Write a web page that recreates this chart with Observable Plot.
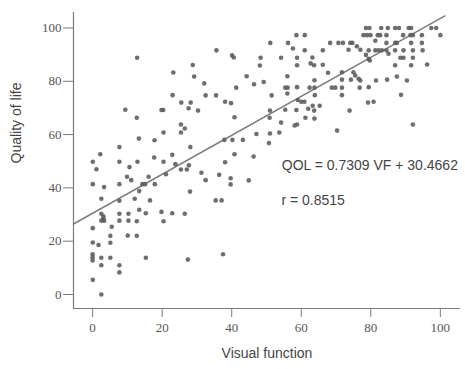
<!DOCTYPE html>
<html><head><meta charset="utf-8">
<script src="https://cdn.jsdelivr.net/npm/d3@7"></script>
<script src="https://cdn.jsdelivr.net/npm/@observablehq/plot@0.6"></script>
<style>
body{margin:0;background:#fff} svg{display:block}
</style>
</head><body><div id="chart"></div>
<script>
const visualFunction = [
12.8,28.8,23.2,29.2,32.1,23.0,32.5,25.5,28.2,27.6,30.3,9.4,19.8,20.3,12.7,25.4,26.5,25.4,20.4,13.3,17.8,7.7,28.1,2.2,17.7,22.9,
0.05,7.7,12.9,20.4,10.6,1.1,23.8,27.7,25.4,27.1,31.3,32.5,21.1,9.9,11.1,16.1,0.05,3.3,7.7,14.3,15.1,17.9,13.4,28.0,2.5,7.7,12.1,16.5,13.4,2.5,7.7,10.3,15.3,19.8,22.9,26.5,3.1,3.1,2.5,3.3,7.7,10.3,12.7,20.4,5.5,0.05,5.1,10.1,12.7,0.05,1.7,5.1,0,0,0,2.5,5.1,15.3,27.4,2.5,7.7,7.7,0.05,2.5,
58.6,61.0,51.1,56.2,57.6,35.6,61.0,66.2,40.1,40.6,48.3,54.2,58.8,63.2,48.1,58.8,62.7,63.7,66.2,67.7,44.3,56.0,63.8,46.4,49.2,41.3,55.4,56.1,58.8,62.4,63.8,35.5,51.5,56.0,63.9,38.1,39.8,59.0,60.0,60.9,63.3,65.3,51.0,55.4,58.6,62.0,63.7,40.8,50.9,61.2,63.8,54.2,58.1,58.8,47.1,51.0,53.7,37.9,40.2,43.2,50.7,40.8,46.3,
38.1,36.4,39.7,39.7,44.9,35.4,37.1,37.5,
97.4,98.8,100,78.6,79.6,83.0,84.9,87.0,88.1,90.9,91.6,77.9,78.9,79.9,82.0,82.7,84.5,89.3,91.4,92.1,94.7,81.3,84.5,87.0,87.5,91.6,94.7,68.3,70.7,72.0,74.1,74.7,76.0,77.0,73.6,79.4,81.3,82.2,83.2,84.5,87.0,89.4,92.1,94.9,85.1,78.6,79.4,79.7,88.5,89.4,92.1,87.0,91.6,96.2,71.7,75.0,75.5,76.5,77.0,87.5,71.7,74.3,81.5,84.7,90.4,68.8,69.8,71.7,76.8,79.4,71.7,88.7,79.2,80.8,73.9,70.3,92.1
];
const qualityOfLife = [
88.8,86.1,83.3,81.8,79.2,74.8,74.7,72.0,72.0,69.9,69.0,69.3,69.2,69.2,66.3,63.8,62.3,60.8,60.8,58.5,57.9,55.3,55.3,52.6,51.4,52.4,
49.8,49.8,49.8,49.8,47.8,47.0,48.9,48.5,46.9,46.9,45.7,42.9,45.1,44.2,42.9,44.2,41.4,40.3,41.4,41.4,41.4,41.4,38.8,38.6,35.9,35.2,35.9,35.3,31.8,30.3,30.3,30.3,30.5,31.0,30.5,30.3,29.3,28.4,27.7,27.7,27.7,27.7,27.5,27.5,25.4,24.9,22.0,22.1,22.0,19.5,18.6,19.4,15.1,14.0,12.8,13.8,13.8,13.8,13.1,11.0,11.0,8.3,5.5,0,
97.3,97.3,94.4,94.4,92.3,91.6,91.6,91.6,89.7,88.9,88.8,88.8,88.8,88.9,85.9,86.0,86.7,86.0,86.2,83.2,81.9,81.9,80.4,78.9,79.7,77.6,77.6,77.6,77.8,77.6,77.6,74.7,74.7,75.4,74.8,72.3,71.8,73.0,72.3,72.3,70.8,70.8,69.0,69.3,69.2,69.7,69.0,66.5,66.3,66.3,66.0,64.5,63.4,63.8,60.2,60.4,60.8,58.0,58.0,58.0,56.8,52.6,51.8,
49.6,44.9,43.6,41.3,42.8,35.3,35.3,15.1,
100,100,97.3,100,100,100,100,100,100,100,100,97.3,97.3,97.3,97.3,97.3,97.3,97.3,97.3,97.3,97.3,95.2,94.4,94.4,94.4,94.4,94.4,94.4,94.4,94.4,94.4,94.4,93.1,91.8,91.8,91.6,91.6,91.6,91.6,91.6,91.6,91.6,91.6,91.6,90.3,89.9,88.4,87.8,88.8,88.8,88.8,86.0,86.0,86.3,83.4,83.4,82.2,80.9,80.3,81.8,80.6,80.6,80.3,80.6,80.3,77.6,77.6,77.6,77.6,77.8,74.8,74.9,72.0,72.3,69.0,61.5,63.8
];
const xTicks = [0, 20, 40, 60, 80, 100];
const yTicks = [0, 20, 40, 60, 80, 100];
const xTitle = "Visual function";
const yTitle = "Quality of life";
const slope = 0.7309, intercept = 30.4662;
const fitVF = [-5.5, 101.3];
const equationText = "QOL = 0.7309 VF + 30.4662";
const rText = "r = 0.8515";

const points = visualFunction.map((v, i) => ({vf: v, qol: qualityOfLife[i]}));
const fit = fitVF.map(v => ({vf: v, qol: slope * v + intercept}));
const xDom = [-5.5, 105.8], yDom = [-5.25, 105.8];
const sans = "Liberation Sans, Arial, sans-serif";
const serif = "'Liberation Serif', 'Times New Roman', serif";

const chart = Plot.plot({
  width: 465, height: 369,
  marginLeft: 73, marginRight: 5, marginTop: 12, marginBottom: 61,
  x: {domain: xDom}, y: {domain: yDom},
  style: {background: "#fff"},
  marks: [
    Plot.ruleY([yDom[0]], {stroke: "#7a7a7a", strokeWidth: 1.2}),
    Plot.ruleX([xDom[0]], {stroke: "#7a7a7a", strokeWidth: 1.2}),
    Plot.axisX({ticks: xTicks, tickSize: 9, tickPadding: 5, fontSize: 13, fill: "#555", stroke: "#7a7a7a", label: null}),
    Plot.axisY({ticks: yTicks, tickSize: 10, tickPadding: 2, fontSize: 13, fill: "#555", stroke: "#7a7a7a", label: null}),
    Plot.line(fit, {x: "vf", y: "qol", stroke: "#7c7c7c", strokeWidth: 1.5}),
    Plot.dot(points, {x: "vf", y: "qol", r: 2.3, fill: "#5e5e5e", fillOpacity: 0.9}),
    Plot.text([equationText], {x: 54.4, y: 48.4, textAnchor: "start", fontSize: 14, fontFamily: sans, fill: "#444"}),
    Plot.text([rText], {x: 54.3, y: 35.3, textAnchor: "start", fontSize: 14, fontFamily: sans, fill: "#444"}),
    Plot.text([xTitle], {frameAnchor: "bottom", dy: 49, fontSize: 14, fontFamily: sans, fill: "#444"}),
    Plot.text([yTitle], {frameAnchor: "left", dx: -57, dy: 3, rotate: -90, fontSize: 14, fontFamily: sans, fill: "#444"})
  ]
});
d3.select(chart).selectAll('g[aria-label$="axis tick label"]')
  .attr("font-family", serif).style("font-family", serif)
  .selectAll("text").style("font-family", serif);
document.getElementById("chart").append(chart);
</script></body></html>
